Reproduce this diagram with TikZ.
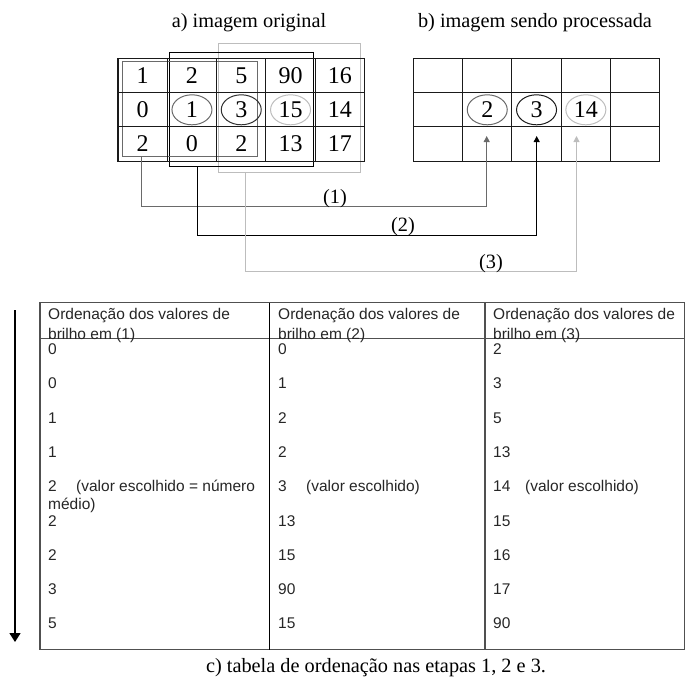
\documentclass[tikz,border=0pt]{standalone}
\usepackage{fontspec}
\setmainfont{Liberation Serif}
\newfontfamily\arialf{Liberation Sans}
\usetikzlibrary{arrows.meta,shapes.geometric}
\definecolor{gmid}{HTML}{6A6A6A}
\definecolor{glight}{HTML}{BDBDBD}
\definecolor{gdark}{HTML}{1A1A1A}
\definecolor{tline}{HTML}{505050}
\newcommand\mycelfont{\fontsize{24}{24}\selectfont}
\newcommand\mylblfont{\fontsize{20.3}{22}\selectfont}
\newcommand\mytabfont{\arialf\fontsize{15.5}{17.5}\selectfont}
\begin{document}
\begin{tikzpicture}[x=1pt,y=-1pt,
  cell/.style={draw=gdark, line width=1.1pt, minimum width=49.3pt, minimum height=34.2pt, inner sep=0pt, font=\mycelfont},
  ring/.style={ellipse, draw, line width=1pt, minimum width=40pt, minimum height=30pt, inner sep=0pt},
  win/.style={draw, line width=1pt, inner sep=0pt, fill=none},
  conn/.style={line width=1pt, -{Triangle[width=6pt,length=6pt]}},
  lbl/.style={font=\mylblfont, anchor=base, inner sep=0pt},
  ttxt/.style={font=\mytabfont, text=black!85, anchor=base west, inner sep=0pt},
  tline/.style={draw=tline, line width=1.1pt}]
\useasboundingbox (0,0) rectangle (686,681);

% titles
\node[lbl] (ta) at (249,27) {a) imagem original};
\node[lbl] (tb) at (535,27) {b) imagem sendo processada};

% windows
\node[win, draw=glight, minimum width=141.7pt, minimum height=129pt] (win3) at (289.15,107.8) {};
\node[win, draw=black, minimum width=144.3pt, minimum height=114.4pt] (win2) at (241.15,109.5) {};
\node[win, draw=gmid, minimum width=135pt, minimum height=94.3pt] (win1) at (189.8,108.85) {};

% left grid
\foreach \r/\vals in {1/{1,2,5,90,16},2/{0,,,,14},3/{2,0,2,13,17}}{
  \foreach \v [count=\c] in \vals {
    \node[cell] (L-\r-\c) at ({118+24.65+49.3*(\c-1)},{58.5+17.1+34.2*(\r-1)}) {\v};
  }
}
\node[ring, draw=gmid, font=\mycelfont] (e1) at (L-2-2) {1};
\node[ring, draw=gdark!90, font=\mycelfont] (e2) at (L-2-3) {3};
\node[ring, draw=glight, font=\mycelfont] (e3) at (L-2-4) {15};

% right grid
\foreach \r in {1,2,3}{
  \foreach \c in {1,...,5}{
    \node[cell] (R-\r-\c) at ({413.3+24.65+49.3*(\c-1)},{58.5+17.1+34.2*(\r-1)}) {};
  }
}
\node[ring, draw=gmid, font=\mycelfont] (f1) at (R-2-2) {2};
\node[ring, draw=gdark, font=\mycelfont] (f2) at (R-2-3) {3};
\node[ring, draw=glight, font=\mycelfont] (f3) at (R-2-4) {14};

% connectors
\coordinate (s1) at (141.7,156);
\coordinate (s2) at (197.3,166.7);
\coordinate (s3) at (245,172.3);
\coordinate (h1) at (486.7,206);
\coordinate (h2) at (536.7,235);
\coordinate (h3) at (576.5,271.7);
\coordinate (t1) at (486.7,136);
\coordinate (t2) at (536.7,136);
\coordinate (t3) at (576.5,136);
\draw[conn, gmid] (s1) |- (h1) -- (t1);
\draw[conn, black] (s2) |- (h2) -- (t2);
\draw[conn, glight] (s3) |- (h3) -- (t3);
\node[lbl] (n1) at (335,203.5) {(1)};
\node[lbl] (n2) at (403,231) {(2)};
\node[lbl] (n3) at (491,268) {(3)};

% table
\draw[tline] (40,302.7) rectangle (684.5,649.5);
\draw[tline] (40,338.3) -- (684.5,338.3);
\draw[line width=1.1pt, black] (269.5,302.7) -- (269.5,649.5);
\draw[line width=1.1pt, tline] (485,302.7) -- (485,649.5);

\node[ttxt] (h1a) at (48,319) {Ordenação dos valores de};
\node[ttxt] (h1b) at (48,339.5) {brilho em (1)};
\node[ttxt] (h2a) at (278,319) {Ordenação dos valores de};
\node[ttxt] (h2b) at (278,339.5) {brilho em (2)};
\node[ttxt] (h3a) at (493,319) {Ordenação dos valores de};
\node[ttxt] (h3b) at (493,339.5) {brilho em (3)};

\foreach \a/\b/\cc [count=\k] in {0/0/2,0/1/3,1/2/5,1/2/13,2/3/14,2/13/15,2/15/16,3/90/17,5/15/90}{
  \node[ttxt] (c1-\k) at (48,{354.5+34.3*(\k-1)}) {\a};
  \node[ttxt] (c2-\k) at (278,{354.5+34.3*(\k-1)}) {\b};
  \node[ttxt] (c3-\k) at (493,{354.5+34.3*(\k-1)}) {\cc};
}
\node[ttxt] (v1) at (76,491.7) {(valor escolhido = número};
\node[ttxt] (v1b) at (48,509.3) {médio)};
\node[ttxt] (v2) at (306,491.7) {(valor escolhido)};
\node[ttxt] (v3) at (525,491.7) {(valor escolhido)};

% order arrow
\coordinate (otop) at (15,310);
\coordinate (obot) at (15,642);
\draw[line width=1.5pt, -{Triangle[width=11pt,length=9pt]}] (otop) -- (obot);

% caption
\node[lbl] (cap) at (376,672) {c) tabela de ordenação nas etapas 1, 2 e 3.};
\end{tikzpicture}
\end{document}
